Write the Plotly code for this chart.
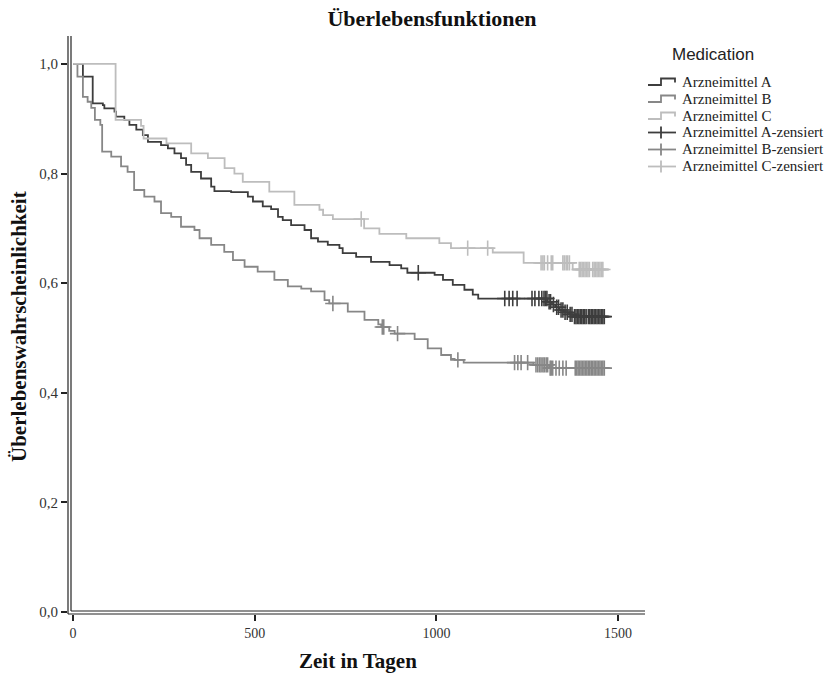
import numpy as np
import plotly.graph_objects as go

# ---- data ----
groups = ["Arzneimittel A", "Arzneimittel B", "Arzneimittel C"]
colors = ["#3d3d3d", "#878787", "#bdbdbd"]

t_A = [0, 27, 54, 82, 86, 114, 118, 141, 155, 174, 192, 206, 242, 261, 279, 297, 311, 325, 352, 380, 389,
       435, 481, 495, 522, 545, 564, 577, 600, 637, 655, 674, 701, 733, 742, 779, 820, 871, 903, 920,
       995, 1018, 1045, 1077, 1100, 1115, 1305, 1318, 1327, 1338, 1350, 1365, 1378, 1474]
s_A = [1.0, 0.977, 0.928, 0.925, 0.919, 0.913, 0.904, 0.898, 0.889, 0.880, 0.870, 0.858, 0.852, 0.846,
       0.837, 0.828, 0.816, 0.803, 0.791, 0.776, 0.768, 0.766, 0.758, 0.749, 0.740, 0.735, 0.721, 0.715,
       0.706, 0.697, 0.682, 0.676, 0.670, 0.664, 0.655, 0.648, 0.639, 0.633, 0.627, 0.619, 0.615, 0.606,
       0.597, 0.588, 0.579, 0.572, 0.566, 0.561, 0.556, 0.551, 0.547, 0.543, 0.539, 0.539]

t_B = [0, 12, 27, 40, 50, 60, 75, 80, 105, 132, 150, 168, 196, 224, 242, 270, 297, 334, 348, 380, 416,
       440, 472, 508, 554, 591, 628, 655, 692, 705, 756, 802, 840, 848, 870, 885, 940, 976, 1013, 1040,
       1050, 1075, 1267, 1310, 1474]
s_B = [1.0, 0.977, 0.940, 0.931, 0.920, 0.898, 0.889, 0.840, 0.831, 0.813, 0.803, 0.770, 0.758, 0.749,
       0.728, 0.721, 0.703, 0.697, 0.682, 0.670, 0.657, 0.642, 0.630, 0.621, 0.606, 0.594, 0.590, 0.585,
       0.569, 0.563, 0.548, 0.533, 0.525, 0.520, 0.513, 0.508, 0.498, 0.481, 0.469, 0.462, 0.460, 0.455,
       0.451, 0.445, 0.445]

t_C = [0, 117, 187, 194, 257, 325, 371, 417, 444, 467, 540, 609, 678, 688, 715, 801, 843, 917, 1008,
       1040, 1155, 1240, 1375, 1474]
s_C = [1.0, 0.898, 0.887, 0.864, 0.855, 0.837, 0.828, 0.810, 0.800, 0.785, 0.767, 0.743, 0.734, 0.724,
       0.717, 0.700, 0.690, 0.682, 0.673, 0.664, 0.656, 0.637, 0.625, 0.625]

cens_A = [950, 1188, 1200, 1210, 1222, 1263, 1271, 1282, 1290, 1296, 1300, 1304, 1310, 1314, 1322,
          1331, 1336, 1343, 1348, 1354, 1360, 1368, 1373, 1380, 1384, 1388, 1392, 1396, 1400, 1404,
          1408, 1412, 1418, 1422, 1426, 1430, 1434, 1438, 1442, 1446, 1450, 1454, 1458, 1462]
cens_B = [715, 851, 855, 893, 1059, 1215, 1224, 1233, 1251, 1274, 1279, 1284, 1288, 1293, 1297, 1302,
          1306, 1313, 1316, 1320, 1329, 1338, 1348, 1357, 1382, 1386, 1390, 1394, 1398, 1402, 1406,
          1410, 1414, 1418, 1422, 1426, 1430, 1434, 1438, 1442, 1446, 1450, 1454, 1458, 1462]
cens_C = [793, 1086, 1141, 1288, 1293, 1297, 1306, 1316, 1320, 1348, 1352, 1357, 1361, 1366, 1393,
          1397, 1401, 1405, 1409, 1413, 1417, 1421, 1430, 1434, 1438, 1442, 1446, 1450, 1454, 1458]

x_ticks = [0, 500, 1000, 1500]
y_ticks = [0.0, 0.2, 0.4, 0.6, 0.8, 1.0]
y_ticklabels = ["0,0", "0,2", "0,4", "0,6", "0,8", "1,0"]
legend_title = "Medication"

times = [t_A, t_B, t_C]
survs = [s_A, s_B, s_C]
cens = [cens_A, cens_B, cens_C]


def step_value(t_list, s_list, t):
    idx = np.searchsorted(np.asarray(t_list), t, side="right") - 1
    return np.asarray(s_list)[idx]


SERIF = "Liberation Serif"
SANS = "Liberation Sans"

# plot-area geometry in pixels
L, R, T, B = 68, 645, 36, 614
W, H = 828, 674


def px(xp):
    return (xp - L) / (R - L)


def py(yp):
    return (B - yp) / (B - T)


fig = go.Figure()
for g, c, t, s in zip(groups, colors, times, survs):
    fig.add_trace(go.Scatter(x=t, y=s, mode="lines", name=g, showlegend=False,
                             line=dict(color=c, width=1.8, shape="hv")))
for g, c, t, s, cs in zip(groups, colors, times, survs, cens):
    fig.add_trace(go.Scatter(x=cs, y=step_value(t, s, cs), mode="markers", name=g + "-zensiert",
                             showlegend=False,
                             marker=dict(symbol="cross-thin", size=11, line=dict(color=c, width=1.6))))

axis_col = "#222222"
shapes = [
    dict(type="line", xref="paper", yref="paper", x0=0, x1=0, y0=0, y1=1, line=dict(color=axis_col, width=1.2)),
    dict(type="line", xref="paper", yref="paper", x0=px(L + 3), x1=px(L + 3), y0=py(B - 3), y1=1,
         line=dict(color=axis_col, width=1.2)),
    dict(type="line", xref="paper", yref="paper", x0=0, x1=1, y0=0, y1=0, line=dict(color=axis_col, width=1.2)),
    dict(type="line", xref="paper", yref="paper", x0=px(L + 3), x1=1, y0=py(B - 3), y1=py(B - 3),
         line=dict(color=axis_col, width=1.2)),
]

annotations = [
    dict(text="<b>Zeit in Tagen</b>", xref="paper", yref="paper", x=px(358), y=py(661),
         xanchor="center", yanchor="middle", showarrow=False, font=dict(family=SERIF, size=21, color="#111")),
    dict(text="<b>Überlebenswahrscheinlichkeit</b>", xref="paper", yref="paper", x=px(19),
         y=py(327), xanchor="center", yanchor="middle", textangle=-90, showarrow=False,
         font=dict(family=SERIF, size=21, color="#111")),
    dict(text=legend_title, xref="paper", yref="paper", x=px(713), y=py(54), xanchor="center",
         yanchor="middle", showarrow=False, font=dict(family=SANS, size=17, color="#222")),
]

# custom legend (matches the reference's compact layout)
row_y = [82, 99, 116, 132.5, 149.5, 166.5]
labels = groups + [g + "-zensiert" for g in groups]
for i, lab in enumerate(labels):
    ry = row_y[i]
    c = colors[i % 3]
    if i < 3:
        path = "M {},{} L {},{} L {},{} L {},{} L {},{}".format(
            px(648), py(ry + 3), px(661), py(ry + 3), px(661), py(ry - 3.5), px(675), py(ry - 3.5),
            px(675), py(ry + 0.5))
        shapes.append(dict(type="path", xref="paper", yref="paper", path=path,
                           line=dict(color=c, width=1.8)))
    else:
        shapes.append(dict(type="line", xref="paper", yref="paper", x0=px(648), x1=px(676),
                           y0=py(ry), y1=py(ry), line=dict(color=c, width=1.8)))
        shapes.append(dict(type="line", xref="paper", yref="paper", x0=px(661), x1=px(661),
                           y0=py(ry - 6), y1=py(ry + 6), line=dict(color=c, width=1.8)))
    annotations.append(dict(text=lab, xref="paper", yref="paper", x=px(680), y=py(ry), xanchor="left",
                            yanchor="middle", showarrow=False, font=dict(family=SERIF, size=15, color="#222")))

fig.update_layout(
    width=W, height=H,
    margin=dict(l=L, r=W - R, t=T, b=H - B),
    plot_bgcolor="white", paper_bgcolor="white",
    showlegend=False,
    shapes=shapes,
    annotations=annotations,
    title=dict(text="<b>Überlebensfunktionen</b>", x=432 / W, xanchor="center", y=1 - 18 / H,
               yanchor="middle", font=dict(family=SERIF, size=22, color="#111")),
    xaxis=dict(range=[-14, 1574], showgrid=False, zeroline=False, showline=False,
               tickvals=x_ticks, ticks="outside", ticklen=6, tickwidth=1.5, tickcolor=axis_col,
               tickfont=dict(family=SERIF, size=14, color="#333")),
    yaxis=dict(range=[-0.0036, 1.051], showgrid=False, zeroline=False, showline=False,
               tickvals=y_ticks, ticktext=y_ticklabels, ticks="outside", ticklen=6, tickwidth=1.5,
               tickcolor=axis_col, tickfont=dict(family=SERIF, size=15, color="#333")),
)

fig.write_html("out.html", post_script="document.body.style.margin='0';",
               config={"displayModeBar": False})
